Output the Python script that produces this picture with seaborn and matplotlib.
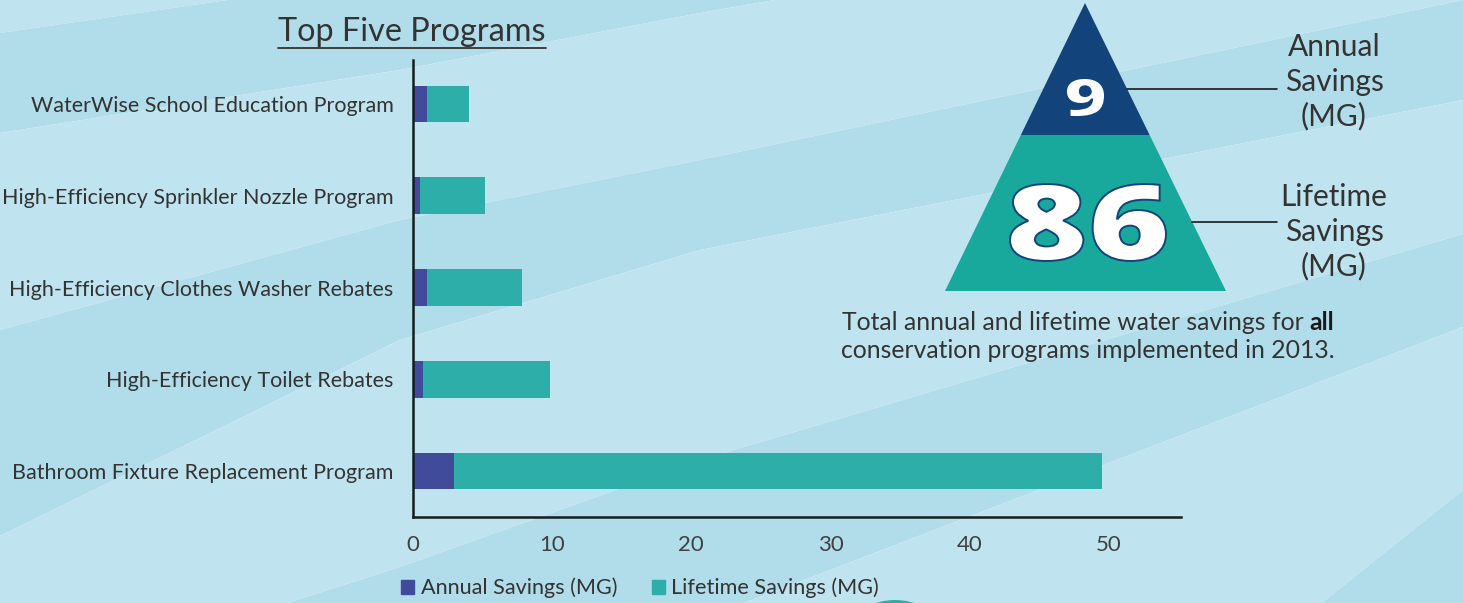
import numpy as np
import pandas as pd
import matplotlib
matplotlib.use("Agg")
import matplotlib.pyplot as plt
from matplotlib.patches import Polygon, Patch, Ellipse, PathPatch
from matplotlib.textpath import TextPath
from matplotlib.font_manager import FontProperties
from matplotlib.transforms import Affine2D
import seaborn as sns

# data
programs = ["WaterWise School Education Program",
            "High-Efficiency Sprinkler Nozzle Program",
            "High-Efficiency Clothes Washer Rebates",
            "High-Efficiency Toilet Rebates",
            "Bathroom Fixture Replacement Program"]
annual = [1.0, 0.5, 1.0, 0.75, 2.95]
lifetime = [3.0, 4.7, 6.8, 9.1, 46.6]
total_annual = 9
total_lifetime = 86

df = pd.DataFrame({"Program": programs, "Annual": annual, "Lifetime": lifetime})
df["Total"] = df["Annual"] + df["Lifetime"]

navy = "#404B9B"
teal = "#2EAEA8"
tri_top = "#12437A"
tri_bot = "#18A89C"
txt = "#333333"
light = "#C0E4EF"
dark = "#B1DDEB"

sns.set_theme(style="white")
plt.rcParams["font.family"] = ["Lato", "DejaVu Sans"]

W, H = 1463, 603
fig = plt.figure(figsize=(W / 100, H / 100), dpi=100)

# background with diagonal bands (pixel coords)
bg = fig.add_axes([0, 0, 1, 1], zorder=-10)
bg.set_xlim(0, W)
bg.set_ylim(H, 0)
bg.axis("off")
xs = [0, 400, 700, 1463]
bounds = [[-500] * 4,
          [33, -25, -70, -200],
          [133, 70, 13, -120],
          [330, 220, 160, 0],
          [536, 340, 250, 100],
          [695, 567, 460, 234],
          [900, 760, 620, 327],
          [1500, 1300, 1100, 490],
          [2000] * 4]
xg = np.linspace(0, W, 300)
for i in range(len(bounds) - 1):
    bg.fill_between(xg, np.interp(xg, xs, bounds[i]), np.interp(xg, xs, bounds[i + 1]),
                    color=light if i % 2 == 0 else dark, lw=0)
bg.add_patch(Ellipse((895, 625), 80, 50, color=teal, lw=0))

# bar chart
ax = fig.add_axes([413 / W, 1 - 517 / H, (1181 - 413) / W, (517 - 60) / H])
ax.patch.set_alpha(0)
sns.barplot(data=df, y="Program", x="Total", color=teal, orient="h", width=0.4,
            saturation=1, linewidth=0, ax=ax)
sns.barplot(data=df, y="Program", x="Annual", color=navy, orient="h", width=0.4,
            saturation=1, linewidth=0, ax=ax)
ax.set_xlim(0, 55.2)
ax.set_ylim(4.5, -0.48)
ax.set_xticks(range(0, 51, 10))
ax.set_xlabel("")
ax.set_ylabel("")
for s in ["top", "right"]:
    ax.spines[s].set_visible(False)
for s in ["left", "bottom"]:
    ax.spines[s].set_color("#1a1a1a")
    ax.spines[s].set_linewidth(1.8)
ax.tick_params(axis="y", length=0, pad=14, labelsize=15.5, labelcolor=txt)
ax.tick_params(axis="x", length=0, pad=13, labelsize=16, labelcolor="#404040")

# title with underline
title = fig.text(412 / W, 1 - 32 / H, "Top Five Programs", ha="center", va="center",
                 fontsize=23.3, color=txt)
fig.canvas.draw()
r = fig.canvas.get_renderer()
bb = title.get_window_extent(r)
bg.plot([bb.x0, bb.x1], [H - bb.y0 + 1, H - bb.y0 + 1], color=txt, lw=1.3)

# legend
handles = [Patch(color=navy), Patch(color=teal)]
fig.legend(handles, ["Annual Savings (MG)", "Lifetime Savings (MG)"], loc="center",
           bbox_to_anchor=(640 / W, 1 - 588 / H), ncol=2, frameon=False,
           handlelength=0.6, handleheight=0.6, handletextpad=0.3, columnspacing=1.6,
           fontsize=15.6, labelcolor=txt)

# pyramid
apex = (1085, 3)
bl = (945, 291)
br = (1226, 291)
ydiv = 135
f = (ydiv - apex[1]) / (bl[1] - apex[1])
dl = (apex[0] + f * (bl[0] - apex[0]), ydiv)
dr = (apex[0] + f * (br[0] - apex[0]), ydiv)
bg.add_patch(Polygon([apex, dl, dr], closed=True, color=tri_top, lw=0))
bg.add_patch(Polygon([dl, bl, br, dr], closed=True, color=tri_bot, lw=0))


def big_number(s, x0, x1, y0, y1):
    tp = TextPath((0, 0), s, size=100,
                  prop=FontProperties(family="Open Sans", weight="heavy"))
    ext = tp.get_extents()
    sx = (x1 - x0) / ext.width
    sy = (y1 - y0) / ext.height
    tr = Affine2D().translate(-ext.x0, -ext.y1).scale(sx, -sy).translate(x0, y0)
    path = tr.transform_path(tp)
    bg.add_patch(PathPatch(path, facecolor="white", edgecolor=tri_top, lw=1.4))


big_number(str(total_annual), 1066, 1105, 78, 117)
big_number(str(total_lifetime), 1010, 1166, 184, 261)


def edge_x(y):
    g = (y - apex[1]) / (br[1] - apex[1])
    return apex[0] + g * (br[0] - apex[0])


bg.plot([edge_x(89), 1277], [89, 89], color="#1a1a1a", lw=1.2)
bg.plot([edge_x(222), 1277], [222, 222], color="#1a1a1a", lw=1.2)
bg.text(1334, 82, "Annual\nSavings\n(MG)", ha="center", va="center", fontsize=21.5,
        linespacing=1.28, color=txt)
bg.text(1334, 232, "Lifetime\nSavings\n(MG)", ha="center", va="center", fontsize=21.5,
        linespacing=1.28, color=txt)

# caption with bold word
part1 = bg.text(0, 323, "Total annual and lifetime water savings for ", ha="left",
                va="center", fontsize=17.8, color=txt)
part2 = bg.text(0, 323, "all", ha="left", va="center", fontsize=17.8,
                fontweight="bold", color="#1a1a1a")
fig.canvas.draw()
w1 = part1.get_window_extent(r).width
w2 = part2.get_window_extent(r).width
x0 = 1088 - (w1 + w2) / 2
part1.set_x(x0)
part2.set_x(x0 + w1)
bg.text(1088, 351, "conservation programs implemented in 2013.", ha="center",
        va="center", fontsize=17.8, color=txt)

fig.savefig("out.png", dpi=100)
